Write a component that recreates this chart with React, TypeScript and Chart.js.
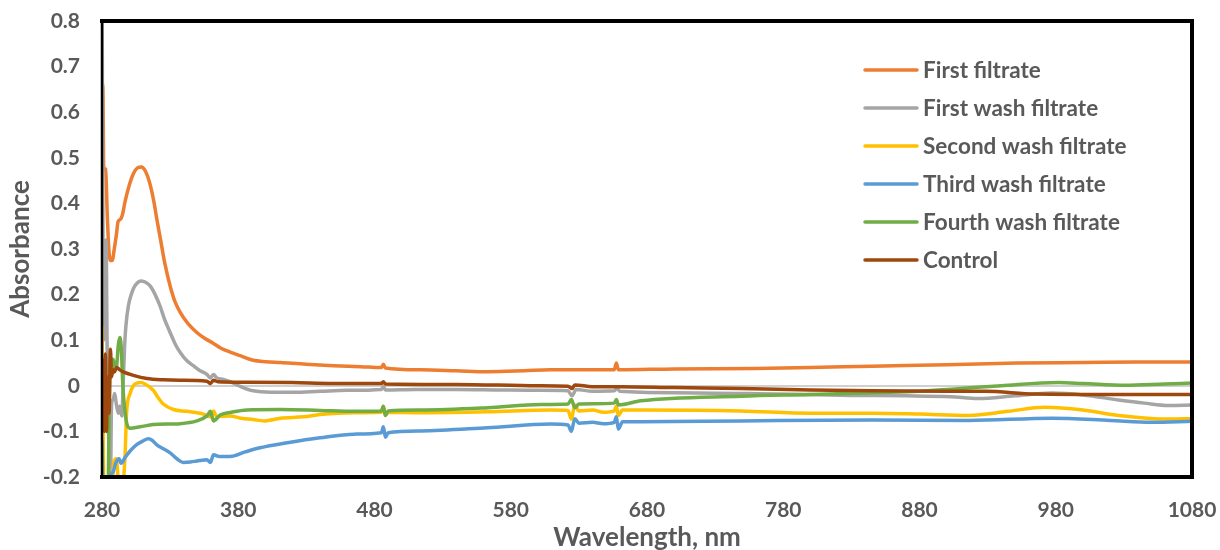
import React, { useEffect, useRef } from "react";
import { Chart, registerables } from "chart.js";

Chart.register(...registerables);

// ---------- DATA ----------
const seriesLabels = [
  "First filtrate",
  "First wash filtrate",
  "Second wash filtrate",
  "Third wash filtrate",
  "Fourth wash filtrate",
  "Control",
];
const seriesColors = ["#ED7D31", "#A5A5A5", "#FFC000", "#5B9BD5", "#70AD47", "#9E480E"];

const xTickMin = 280;
const xTickMax = 1080;
const xTickStep = 100;
const yTickMin = -0.2;
const yTickMax = 0.8;
const yTickStep = 0.1;

const firstFiltrateNm = [280, 280.6, 281.3, 282.7, 283.8, 285, 286.2, 287.5, 289, 290.5, 291.8, 293.5, 295, 297, 300, 303, 306, 309, 312, 315, 318, 320.2, 323, 326, 330, 333.5, 337.4, 343, 349.6, 355, 361.8, 367, 374, 381.5, 391, 400, 411, 430, 450, 470, 485, 486.5, 488, 514, 540, 563, 590, 609, 640, 656, 657.5, 659, 700, 760, 800, 845, 900, 952, 1000, 1040, 1080];
const firstFiltrateAbs = [0.5, 0.66, 0.48, 0.475, 0.38, 0.3, 0.275, 0.275, 0.3, 0.33, 0.36, 0.365, 0.375, 0.405, 0.44, 0.465, 0.478, 0.48, 0.47, 0.445, 0.405, 0.366, 0.32, 0.27, 0.219, 0.185, 0.161, 0.137, 0.117, 0.105, 0.093, 0.083, 0.074, 0.066, 0.056, 0.053, 0.051, 0.047, 0.044, 0.042, 0.04, 0.047, 0.039, 0.035, 0.033, 0.031, 0.033, 0.035, 0.035, 0.035, 0.05, 0.035, 0.037, 0.038, 0.04, 0.043, 0.046, 0.05, 0.051, 0.052, 0.052];

const firstWashNm = [280, 281.2, 282.2, 283, 283.7, 284.5, 285.5, 286.2, 287, 288.2, 289.3, 290.5, 292, 293, 294.5, 295.5, 296.5, 297.5, 299.4, 302, 304.3, 309, 312, 315.3, 319, 322.6, 326, 330, 334, 337.4, 342, 347, 352, 357, 359.5, 361.8, 364, 369, 374, 382, 391, 404, 420, 440, 460, 485, 486.5, 488, 510, 540, 570, 600, 622, 625, 628, 640, 656, 658, 660, 700, 774, 830, 870, 903, 923, 950, 977, 1000, 1026, 1045, 1063, 1080];
const firstWashAbs = [0.9, 0.1, 0.3, 0.32, 0.1, -0.05, -0.2, -0.22, -0.042, -0.03, -0.017, -0.04, -0.06, -0.045, -0.066, 0.0, 0.08, 0.13, 0.176, 0.205, 0.22, 0.23, 0.227, 0.219, 0.2, 0.175, 0.145, 0.117, 0.09, 0.073, 0.056, 0.044, 0.033, 0.025, 0.017, 0.025, 0.018, 0.014, 0.009, -0.002, -0.011, -0.014, -0.014, -0.012, -0.01, -0.008, -0.002, -0.009, -0.008, -0.008, -0.009, -0.01, -0.011, -0.022, -0.008, -0.012, -0.011, -0.005, -0.012, -0.015, -0.018, -0.021, -0.022, -0.024, -0.028, -0.022, -0.016, -0.02, -0.031, -0.038, -0.043, -0.042];

const secondWashNm = [280, 280.8, 281.5, 287, 288.5, 290.5, 292, 294, 296, 297, 298, 300.6, 303, 305.5, 308.5, 311.6, 317.7, 321, 325, 332.4, 342.3, 354.5, 359.6, 361.8, 364.2, 374, 382, 391, 399, 411, 428, 440, 465, 485, 486.5, 488, 490, 514, 563, 609, 622, 624.5, 627, 630, 640, 648, 656, 657.5, 659, 662, 675, 749, 800, 845, 880, 916, 945, 972, 1000, 1026, 1063, 1080];
const secondWashAbs = [0.13, -0.1, -0.25, -0.25, -0.17, -0.16, -0.21, -0.26, -0.2, -0.147, -0.06, -0.017, 0.0, 0.006, 0.007, 0.004, -0.01, -0.025, -0.04, -0.052, -0.056, -0.062, -0.068, -0.055, -0.068, -0.066, -0.071, -0.074, -0.077, -0.071, -0.068, -0.063, -0.059, -0.058, -0.045, -0.065, -0.058, -0.059, -0.057, -0.053, -0.054, -0.073, -0.042, -0.055, -0.053, -0.058, -0.055, -0.045, -0.065, -0.053, -0.053, -0.055, -0.06, -0.06, -0.062, -0.065, -0.056, -0.047, -0.053, -0.065, -0.073, -0.072];

const thirdWashNm = [280, 285, 286, 288, 290, 292.5, 294, 297, 300.6, 305, 310, 314, 317, 320, 325, 330, 335, 339.6, 345, 349.6, 357, 359.6, 361.8, 366, 374, 385, 396, 416, 440, 465, 485, 486.5, 488, 490, 514, 563, 609, 622, 624.5, 627, 630, 640, 648, 656, 657.5, 659, 662, 675, 749, 845, 916, 977, 1020, 1050, 1080];
const thirdWashAbs = [-0.25, -0.25, -0.2, -0.19, -0.17, -0.16, -0.17, -0.157, -0.143, -0.13, -0.121, -0.116, -0.12, -0.129, -0.138, -0.147, -0.16, -0.168, -0.167, -0.165, -0.162, -0.168, -0.151, -0.155, -0.155, -0.145, -0.136, -0.125, -0.114, -0.106, -0.103, -0.09, -0.113, -0.103, -0.099, -0.092, -0.084, -0.086, -0.1, -0.072, -0.082, -0.08, -0.083, -0.08, -0.068, -0.095, -0.079, -0.079, -0.077, -0.075, -0.076, -0.071, -0.076, -0.08, -0.078];

const fourthWashNm = [280, 281, 284.3, 285.5, 286.5, 287.5, 288.3, 289.5, 290.8, 292, 293.2, 294.2, 295.3, 297, 298.2, 300.6, 308, 317.7, 337.4, 349.6, 357, 359.6, 361.8, 366.7, 375, 386.4, 411, 440, 465, 485, 486.5, 488, 490, 514, 563, 602, 622, 624.5, 627, 630, 656, 657.5, 659, 675.5, 749, 800, 845, 880, 910, 940, 982, 1000, 1031, 1060, 1080];
const fourthWashAbs = [-0.12, -0.25, -0.25, 0.0, 0.06, 0.045, 0.058, 0.035, 0.045, 0.09, 0.106, 0.08, 0.0, -0.06, -0.083, -0.093, -0.09, -0.085, -0.083, -0.077, -0.066, -0.056, -0.077, -0.064, -0.058, -0.053, -0.052, -0.054, -0.056, -0.055, -0.045, -0.065, -0.055, -0.053, -0.048, -0.041, -0.04, -0.03, -0.048, -0.04, -0.038, -0.03, -0.042, -0.033, -0.023, -0.019, -0.015, -0.012, -0.006, 0.0, 0.007, 0.005, 0.001, 0.004, 0.006];

const controlNm = [280, 280.5, 281, 281.7, 282.5, 283.3, 284, 285.2, 286.2, 287, 288, 289, 290.8, 293, 296, 303, 312.9, 325, 337, 357, 359.6, 361.8, 365, 386, 420, 450, 485, 486.5, 488, 540, 600, 622, 625, 627, 640, 660, 700, 749, 800, 845, 900, 928, 965, 1026, 1080];
const controlAbs = [0.06, -0.08, 0.05, -0.1, 0.07, -0.1, 0.02, -0.06, 0.08, 0.02, 0.035, 0.03, 0.04, 0.035, 0.03, 0.023, 0.016, 0.013, 0.012, 0.01, 0.005, 0.012, 0.009, 0.008, 0.007, 0.005, 0.005, 0.009, 0.004, 0.003, 0.0, -0.001, -0.006, 0.002, -0.002, -0.002, -0.004, -0.006, -0.009, -0.011, -0.012, -0.012, -0.018, -0.019, -0.019];

const seriesNm = [firstFiltrateNm, firstWashNm, secondWashNm, thirdWashNm, fourthWashNm, controlNm];
const seriesAbs = [firstFiltrateAbs, firstWashAbs, secondWashAbs, thirdWashAbs, fourthWashAbs, controlAbs];

// ---------- STYLE ----------
const TEXT = "#595959";
const FONT = "Lato, 'DejaVu Sans', sans-serif";

const legendPlugin = {
  id: "insideLegend",
  afterDraw(chart: any) {
    const { ctx, chartArea } = chart;
    ctx.save();
    chart.data.datasets.forEach((ds: any, i: number) => {
      const y = chartArea.top + 49 + i * 38;
      ctx.strokeStyle = ds.borderColor;
      ctx.lineWidth = 3.5;
      ctx.lineCap = "round";
      ctx.beginPath();
      ctx.moveTo(chartArea.left + 763, y);
      ctx.lineTo(chartArea.left + 815, y);
      ctx.stroke();
      ctx.fillStyle = TEXT;
      ctx.font = `bold 22.5px ${FONT}`;
      ctx.textBaseline = "middle";
      ctx.textAlign = "left";
      ctx.fillText(ds.label, chartArea.left + 821, y + 1);
    });
    ctx.restore();
  },
};

const borderPlugin = {
  id: "plotBorder",
  afterDatasetsDraw(chart: any) {
    const { ctx, chartArea: a } = chart;
    ctx.save();
    ctx.strokeStyle = "#000000";
    ctx.lineCap = "square";
    ctx.lineWidth = 4;
    ctx.beginPath();
    ctx.moveTo(a.left, a.top);
    ctx.lineTo(a.right, a.top);
    ctx.lineTo(a.right, a.bottom);
    ctx.lineTo(a.left, a.bottom);
    ctx.stroke();
    ctx.lineWidth = 2.5;
    ctx.beginPath();
    ctx.moveTo(a.left, a.top);
    ctx.lineTo(a.left, a.bottom);
    ctx.stroke();
    ctx.restore();
  },
};

export default function App() {
  const canvasRef = useRef<HTMLCanvasElement | null>(null);

  useEffect(() => {
    if (!canvasRef.current) return;
    const datasets = seriesLabels.map((label, i) => ({
      label,
      data: seriesNm[i].map((x, j) => ({ x, y: seriesAbs[i][j] })),
      borderColor: seriesColors[i],
      backgroundColor: seriesColors[i],
      borderWidth: 3.5,
      pointRadius: 0,
      fill: false,
      cubicInterpolationMode: "monotone" as const,
      order: seriesLabels.length - i,
    }));

    const chart = new Chart(canvasRef.current, {
      type: "line",
      data: { datasets },
      plugins: [legendPlugin, borderPlugin],
      options: {
        animation: false,
        responsive: true,
        maintainAspectRatio: false,
        layout: { padding: { top: 21, right: 28, left: 0, bottom: 0 } },
        plugins: { legend: { display: false }, tooltip: { enabled: false } },
        scales: {
          x: {
            type: "linear",
            min: xTickMin,
            max: xTickMax,
            afterFit: (s: any) => {
              s.height = 73;
              s.paddingLeft = 0;
              s.paddingRight = 0;
            },
            ticks: {
              stepSize: xTickStep,
              padding: 21,
              color: TEXT,
              font: { family: FONT, size: 21, weight: "bold" },
              maxRotation: 0,
              callback: (v: any) => String(Math.round(Number(v))),
            },
            grid: { display: false, drawTicks: false },
            border: { display: false },
            title: {
              display: true,
              text: "Wavelength, nm",
              color: TEXT,
              font: { family: FONT, size: 26, weight: "bold" },
              padding: { top: 0, bottom: -3 },
            },
          },
          y: {
            type: "linear",
            min: yTickMin,
            max: yTickMax,
            afterFit: (s: any) => {
              s.width = 102;
              s.paddingTop = 0;
              s.paddingBottom = 0;
            },
            ticks: {
              stepSize: yTickStep,
              padding: 22,
              color: TEXT,
              font: { family: FONT, size: 21, weight: "bold" },
              callback: (v: any) => {
                const r = Math.round(Number(v) * 10) / 10;
                return r === 0 ? "0" : String(r);
              },
            },
            grid: {
              drawTicks: false,
              lineWidth: 2,
              color: (c: any) =>
                c.tick && Math.abs(c.tick.value) < 1e-9 ? "#D0D0D0" : "rgba(0,0,0,0)",
            },
            border: { display: false },
            title: {
              display: true,
              text: "Absorbance",
              color: TEXT,
              font: { family: FONT, size: 26, weight: "bold" },
              padding: { top: 5, bottom: 0 },
            },
          },
        },
      },
    });
    return () => chart.destroy();
  }, []);

  return (
    <div style={{ position: "absolute", left: 0, top: 0, width: 1220, height: 550, background: "#fff" }}>
      <canvas ref={canvasRef} />
    </div>
  );
}
